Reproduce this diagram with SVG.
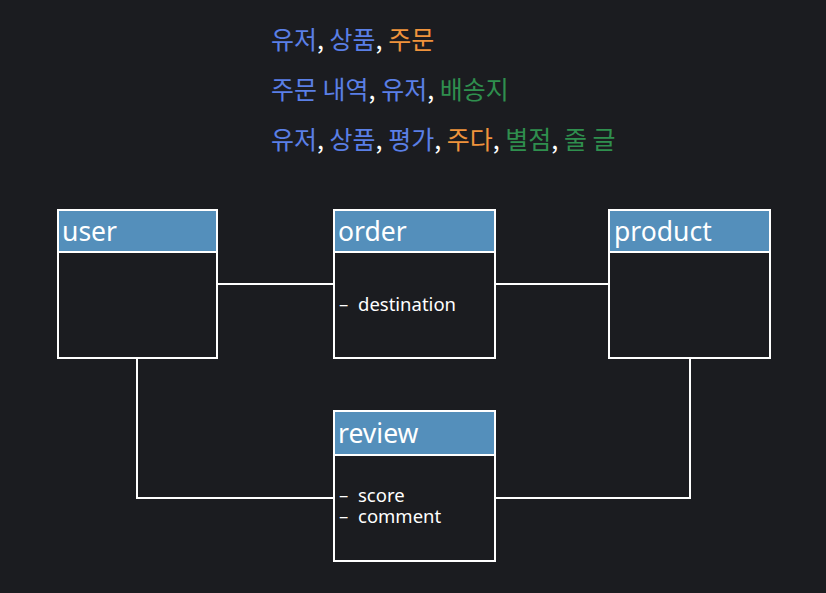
<svg xmlns="http://www.w3.org/2000/svg" width="826" height="593" viewBox="0 0 826 593">
<style>
.bg{fill:#1b1c20}
.box{fill:#1b1c20;stroke:#ffffff;stroke-width:2}
.hdr{fill:#548fbb;stroke:#ffffff;stroke-width:2}
.title{font-family:"Noto Sans","Noto Sans CJK KR",sans-serif;font-size:26.5px;fill:#ffffff}
.attr{font-family:"Noto Sans","Noto Sans CJK KR",sans-serif;font-size:18.5px;fill:#ffffff}
.kr{font-family:"Noto Sans CJK KR","Noto Sans",sans-serif;font-size:25px}
.b{fill:#5a7fe6}.o{fill:#f0933c}.g{fill:#2f8f4e}.w{fill:#ffffff}
.conn{fill:none;stroke:#ffffff;stroke-width:2}
</style>
<rect class="bg" x="0" y="0" width="826" height="593"/>
<g id="legend">
<text class="kr" x="271" y="49" xml:space="preserve"><tspan class="b">유저</tspan><tspan class="w">, </tspan><tspan class="b">상품</tspan><tspan class="w">, </tspan><tspan class="o">주문</tspan></text>
<text class="kr" x="271" y="99" xml:space="preserve"><tspan class="b">주문 내역</tspan><tspan class="w">, </tspan><tspan class="b">유저</tspan><tspan class="w">, </tspan><tspan class="g">배송지</tspan></text>
<text class="kr" x="271" y="149" xml:space="preserve"><tspan class="b">유저</tspan><tspan class="w">, </tspan><tspan class="b">상품</tspan><tspan class="w">, </tspan><tspan class="b">평가</tspan><tspan class="w">, </tspan><tspan class="o">주다</tspan><tspan class="w">, </tspan><tspan class="g">별점</tspan><tspan class="w">, </tspan><tspan class="g">줄 글</tspan></text>
</g>
<g id="connectors">
<line class="conn" x1="218" y1="284" x2="334" y2="284"/>
<line class="conn" x1="495" y1="284" x2="609" y2="284"/>
<polyline class="conn" points="137,358 137,498 334,498"/>
<polyline class="conn" points="690,358 690,498 495,498"/>
</g>
<g id="user">
<rect class="box" x="58" y="210" width="159" height="148"/>
<rect class="hdr" x="58" y="210" width="159" height="42"/>
<text class="title" x="62" y="241">user</text>
</g>
<g id="order">
<rect class="box" x="334" y="210" width="161" height="148"/>
<rect class="hdr" x="334" y="210" width="161" height="42"/>
<text class="title" x="338" y="241">order</text>
<text class="attr" x="339" y="311">–</text>
<text class="attr" x="358" y="311">destination</text>
</g>
<g id="product">
<rect class="box" x="609" y="210" width="161" height="148"/>
<rect class="hdr" x="609" y="210" width="161" height="42"/>
<text class="title" x="614" y="241">product</text>
</g>
<g id="review">
<rect class="box" x="334" y="411" width="161" height="150"/>
<rect class="hdr" x="334" y="411" width="161" height="44"/>
<text class="title" x="338" y="443">review</text>
<text class="attr" x="339" y="502">–</text>
<text class="attr" x="358" y="502">score</text>
<text class="attr" x="339" y="523">–</text>
<text class="attr" x="358" y="523">comment</text>
</g>
</svg>
